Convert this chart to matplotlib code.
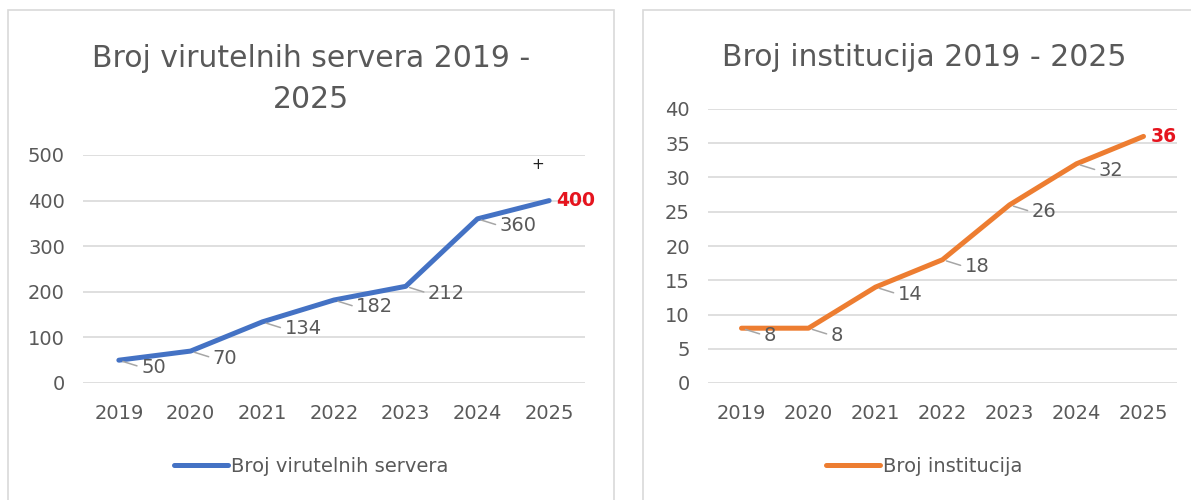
import matplotlib
matplotlib.use("Agg")
import matplotlib.pyplot as plt
from matplotlib.patches import Rectangle

# -- Data ----------------------------------------------------------------------
years = ["2019", "2020", "2021", "2022", "2023", "2024", "2025"]
servers = [50, 70, 134, 182, 212, 360, 400]
institutions = [8, 8, 14, 18, 26, 32, 36]

server_ticks = [0, 100, 200, 300, 400, 500]
inst_ticks = [0, 5, 10, 15, 20, 25, 30, 35, 40]

# -- Style ---------------------------------------------------------------------
BLUE = "#4472C4"
ORANGE = "#ED7D31"
TEXT = "#595959"
GRID = "#D9D9D9"
RED = "#E5141E"
W, H = 1191, 500

plt.rcParams["font.family"] = ["DejaVu Sans"]

fig = plt.figure(figsize=(W / 100, H / 100), dpi=100)


def px_axes(x0, x1, y0, y1):
    """Axes from pixel box (top-left origin)."""
    return fig.add_axes([x0 / W, 1 - y1 / H, (x1 - x0) / W, (y1 - y0) / H])


def draw_panel(ax, values, ticks, color, title, title_x, title_y, label):
    x = list(range(len(values)))
    ax.plot(x, values, color=color, lw=3.6, solid_capstyle="round",
            solid_joinstyle="round", zorder=3)
    ax.set_xlim(-0.5, len(values) - 0.5)
    ax.set_ylim(ticks[0], ticks[-1])
    ax.set_yticks(ticks)
    ax.set_xticks(x)
    ax.set_xticklabels(years)
    ax.tick_params(length=0, labelsize=14, colors=TEXT)
    ax.tick_params(axis="y", pad=13)
    ax.tick_params(axis="x", pad=15)
    ax.grid(axis="y", color=GRID, lw=1.2)
    ax.set_axisbelow(True)
    for s in ax.spines.values():
        s.set_visible(False)
    for lbl in ax.get_yticklabels() + ax.get_xticklabels():
        lbl.set_color(TEXT)

    # data labels with short leader lines
    for i, v in enumerate(values[:-1]):
        ax.annotate(str(v), xy=(i, v), xytext=(16, -5),
                    textcoords="offset points", ha="left", va="center",
                    fontsize=14, color=TEXT,
                    arrowprops=dict(arrowstyle="-", color="#A6A6A6", lw=1.1,
                                    shrinkA=1, shrinkB=3, relpos=(0, 0.5)))
    ax.annotate(str(values[-1]), xy=(len(values) - 1, values[-1]),
                xytext=(5, 0), textcoords="offset points", ha="left",
                va="center", fontsize=13.5, color=RED, fontweight="bold")

    fig.text(title_x / W, 1 - title_y / H, title, ha="center", va="center",
             fontsize=21.5, color=TEXT, linespacing=1.55)

    leg = fig.legend(handles=ax.get_lines()[:1], labels=[label],
                     loc="center", bbox_to_anchor=(title_x / W, 1 - 466 / H),
                     frameon=False, fontsize=14, handlelength=2.8,
                     handletextpad=0.15)
    for t in leg.get_texts():
        t.set_color(TEXT)


# panel frames
fig.add_artist(Rectangle((8 / W, -0.1), (614 - 8) / W, 1.1 - 10 / H,
                         transform=fig.transFigure, fill=False,
                         edgecolor=GRID, lw=1.2))
fig.add_artist(Rectangle((643 / W, -0.1), 0.6, 1.1 - 10 / H,
                         transform=fig.transFigure, fill=False,
                         edgecolor=GRID, lw=1.2))

ax1 = px_axes(83, 585, 155, 383)
draw_panel(ax1, servers, server_ticks, BLUE,
           "Broj virutelnih servera 2019 -\n2025", 311, 79,
           "Broj virutelnih servera")
ax1.text(538 / W, 1 - 164 / H, "+", transform=fig.transFigure, ha="center",
         va="center", fontsize=11, color="#222222")

ax2 = px_axes(708, 1177, 109, 383)
draw_panel(ax2, institutions, inst_ticks, ORANGE,
           "Broj institucija 2019 - 2025", 924, 58,
           "Broj institucija")

fig.savefig("out.png", dpi=100)
